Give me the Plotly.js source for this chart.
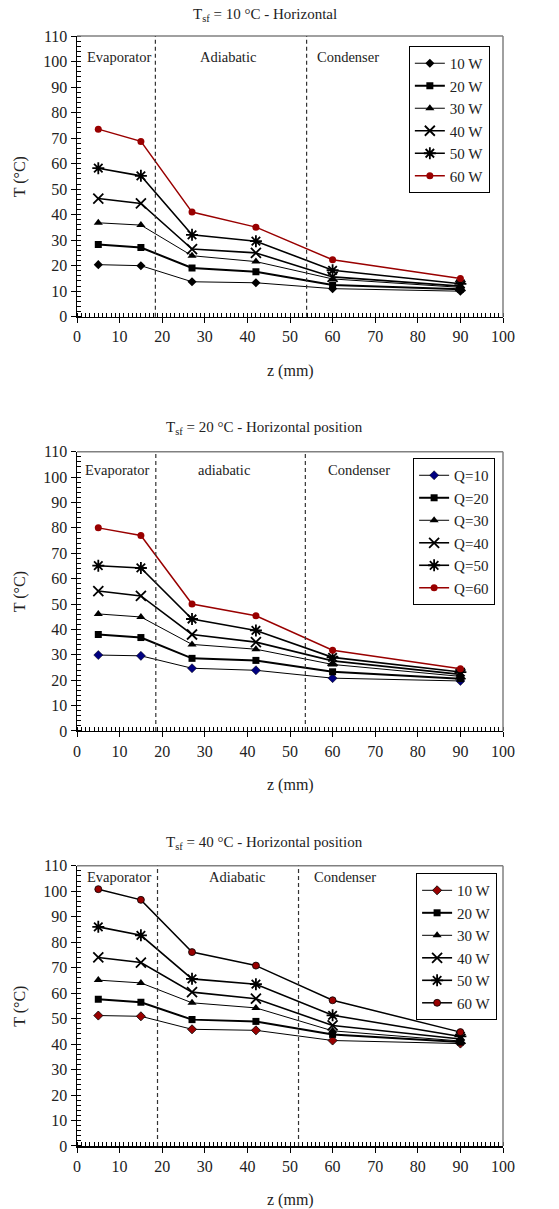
<!DOCTYPE html>
<html>
<head>
<meta charset="utf-8">
<script src="https://cdn.plot.ly/plotly-3.0.1.min.js"></script>
<style>html,body{margin:0;padding:0;background:#fff;}#chart{width:559px;height:1209px;}</style>
</head>
<body>
<div id="chart"></div>
<script>
// ---- data ----
const z = [5, 15, 27, 42, 60, 90];

// Panel 1: T_sf = 10 °C
const p1_names = ["10 W", "20 W", "30 W", "40 W", "50 W", "60 W"];
const p1_q10 = [20.4, 20.0, 13.7, 13.3, 11.0, 10.0];
const p1_q20 = [28.3, 27.1, 19.1, 17.6, 12.4, 10.8];
const p1_q30 = [36.8, 35.9, 23.9, 21.6, 14.8, 11.5];
const p1_q40 = [46.3, 44.4, 26.5, 25.0, 15.6, 12.0];
const p1_q50 = [58.2, 55.2, 32.1, 29.6, 18.2, 12.9];
const p1_q60 = [73.5, 68.7, 41.0, 35.1, 22.3, 15.0];

// Panel 2: T_sf = 20 °C
const p2_names = ["Q=10", "Q=20", "Q=30", "Q=40", "Q=50", "Q=60"];
const p2_q10 = [29.9, 29.6, 24.7, 23.9, 20.8, 19.7];
const p2_q20 = [38.0, 36.8, 28.6, 27.8, 23.3, 20.6];
const p2_q30 = [46.1, 44.9, 34.1, 32.2, 26.2, 21.5];
const p2_q40 = [55.1, 53.2, 38.0, 35.0, 27.6, 22.3];
const p2_q50 = [65.1, 64.2, 44.1, 39.6, 29.0, 23.2];
const p2_q60 = [80.0, 77.0, 50.0, 45.4, 31.8, 24.5];

// Panel 3: T_sf = 40 °C
const p3_names = ["10 W", "20 W", "30 W", "40 W", "50 W", "60 W"];
const p3_q10 = [51.2, 50.9, 45.8, 45.4, 41.4, 40.2];
const p3_q20 = [57.6, 56.4, 49.6, 48.9, 43.8, 40.8];
const p3_q30 = [65.1, 64.0, 56.2, 54.2, 45.2, 41.2];
const p3_q40 = [74.0, 72.0, 60.4, 57.8, 47.3, 42.0];
const p3_q50 = [86.0, 82.7, 65.6, 63.5, 51.3, 43.0];
const p3_q60 = [100.8, 96.6, 76.1, 70.8, 57.2, 44.7];

// Section boundaries (z, mm) per panel
const bounds1 = [18.4, 53.9];
const bounds2 = [18.5, 53.6];
const bounds3 = [18.9, 52.0];

const titles = ["T<sub>sf</sub> = 10 °C - Horizontal",
                "T<sub>sf</sub> = 20 °C - Horizontal position",
                "T<sub>sf</sub> = 40 °C - Horizontal position"];
const regionLabels1 = ["Evaporator", "Adiabatic", "Condenser"];
const regionLabels2 = ["Evaporator", "adiabatic", "Condenser"];
const regionLabels3 = ["Evaporator", "Adiabatic", "Condenser"];

// ---- styling ----
const FONT = "Liberation Serif";
const RED = "#990000";
const symbols = ["diamond", "square", "triangle-up", "x-thin-open", "asterisk-open", "circle"];
const msizes  = [7, 7, 8, 10, 10, 7];
const lwidths = [1, 2, 1, 1.6, 1.6, 1.5];

function buildPanel(series, names, k, styleFn) {
  const traces = [];
  series.forEach((ys, i) => {
    const st = styleFn(i);
    const open = symbols[i].endsWith("-open");
    traces.push({
      type: "scatter", mode: "lines+markers",
      x: z, y: ys, name: names[i],
      xaxis: k === 1 ? "x" : "x" + k,
      yaxis: k === 1 ? "y" : "y" + k,
      legend: k === 1 ? "legend" : "legend" + k,
      legendgroup: "g" + k + "_" + i,
      line: {color: st.line, width: lwidths[i]},
      marker: {symbol: symbols[i], size: msizes[i], color: st.marker,
               line: {color: open ? st.marker : st.outline, width: open ? 1.8 : st.outlineW}},
      showlegend: true
    });
  });
  return traces;
}

const data = []
  .concat(buildPanel([p1_q10, p1_q20, p1_q30, p1_q40, p1_q50, p1_q60], p1_names, 1, i =>
    i === 5 ? {line: RED, marker: RED, outline: RED, outlineW: 0} : {line: "#000", marker: "#000", outline: "#000", outlineW: 0}))
  .concat(buildPanel([p2_q10, p2_q20, p2_q30, p2_q40, p2_q50, p2_q60], p2_names, 2, i =>
    i === 5 ? {line: RED, marker: RED, outline: RED, outlineW: 0} :
    i === 0 ? {line: "#000", marker: "#000080", outline: "#000", outlineW: 0.5} :
              {line: "#000", marker: "#000", outline: "#000", outlineW: 0}))
  .concat(buildPanel([p3_q10, p3_q20, p3_q30, p3_q40, p3_q50, p3_q60], p3_names, 3, i =>
    (i === 0 || i === 5) ? {line: "#000", marker: RED, outline: "#000", outlineW: 0.8} :
              {line: "#000", marker: "#000", outline: "#000", outlineW: 0}));

const domains = [[0.7471, 1.0], [0.3739, 0.6255], [0.0, 0.2525]];

function xaxisDef(k) {
  return {
    domain: [0, 1], anchor: k === 1 ? "y" : "y" + k,
    range: [0, 100], tickvals: [0,10,20,30,40,50,60,70,80,90,100],
    ticks: "outside", ticklen: 5, tickwidth: 1, tickcolor: "#000",
    showline: true, linecolor: "#000", linewidth: 1.5, mirror: false,
    showgrid: false, zeroline: false,
    minor: {dtick: 1, ticks: "inside", ticklen: 4, tickcolor: "#000", tickwidth: 1, showgrid: false},
    tickfont: {family: FONT, size: 16, color: "#222"}
  };
}
function yaxisDef(k) {
  return {
    domain: domains[k-1], anchor: k === 1 ? "x" : "x" + k,
    range: [0, 110], tickvals: [0,10,20,30,40,50,60,70,80,90,100,110],
    ticks: "outside", ticklen: 5, tickwidth: 1, tickcolor: "#000",
    showline: true, linecolor: "#000", linewidth: 1.5, mirror: false,
    showgrid: false, zeroline: false,
    minor: {dtick: 2, ticks: "inside", ticklen: 4, tickcolor: "#000", tickwidth: 1, showgrid: false},
    tickfont: {family: FONT, size: 16, color: "#222"}
  };
}

const shapes = [];
const annotations = [];
const boundsAll = [bounds1, bounds2, bounds3];
const labelsAll = [regionLabels1, regionLabels2, regionLabels3];
const labelX = [[9.9, 35.4, 63.5], [9.5, 34.5, 66.1], [10.0, 37.5, 62.9]];
const labelY = [101.8, 102.8, 105.6];
const titleY = [1.0189, 0.6468, 0.2730];
const legendPos = [[0.779, 0.991], [0.789, 0.6198], [0.796, 0.2459]];

for (let k = 1; k <= 3; k++) {
  const xr = k === 1 ? "x" : "x" + k;
  const yr = k === 1 ? "y" : "y" + k;
  // frame top/right (grey)
  shapes.push({type: "line", xref: xr + " domain", yref: yr + " domain", x0: 0, x1: 1, y0: 1, y1: 1,
               line: {color: "#808080", width: 1.5}});
  shapes.push({type: "line", xref: xr + " domain", yref: yr + " domain", x0: 1, x1: 1, y0: 0, y1: 1,
               line: {color: "#808080", width: 1.5}});
  // section boundaries
  boundsAll[k-1].forEach(b => shapes.push({type: "line", xref: xr, yref: yr + " domain", x0: b, x1: b, y0: 0, y1: 1,
               line: {color: "#333", width: 1.2, dash: "4px,3px"}}));
  // region labels
  labelsAll[k-1].forEach((t, j) => annotations.push({xref: xr, yref: yr, x: labelX[k-1][j], y: labelY[k-1],
               text: t, showarrow: false, font: {family: FONT, size: 14.5, color: "#222"}}));
  // titles
  annotations.push({xref: "paper", yref: "paper", x: 0.441, y: titleY[k-1], text: titles[k-1],
               showarrow: false, xanchor: "center", yanchor: "middle", font: {family: FONT, size: 15, color: "#222"}});
  // axis titles
  annotations.push({xref: "paper", yref: yr + " domain", x: -0.134, y: 0.5, text: "T (°C)", textangle: -90,
               showarrow: false, xanchor: "center", yanchor: "middle", font: {family: FONT, size: 16, color: "#222"}});
  annotations.push({xref: xr + " domain", yref: yr + " domain", x: 0.5, y: -0.193, text: "z (mm)",
               showarrow: false, xanchor: "center", yanchor: "middle", font: {family: FONT, size: 16, color: "#222"}});
}

const layout = {
  width: 559, height: 1209,
  margin: {l: 77, r: 56, t: 36, b: 63},
  paper_bgcolor: "#fff", plot_bgcolor: "#fff",
  font: {family: FONT, color: "#222"},
  shapes: shapes, annotations: annotations
};
for (let k = 1; k <= 3; k++) {
  layout[k === 1 ? "xaxis" : "xaxis" + k] = xaxisDef(k);
  layout[k === 1 ? "yaxis" : "yaxis" + k] = yaxisDef(k);
  layout[k === 1 ? "legend" : "legend" + k] = {
    x: legendPos[k-1][0], y: legendPos[k-1][1], xanchor: "left", yanchor: "top",
    xref: "paper", yref: "paper",
    bgcolor: "#fff", bordercolor: "#000", borderwidth: 1,
    font: {family: FONT, size: 15, color: "#222"},
    traceorder: "grouped", tracegroupgap: 0, itemwidth: 30
  };
}

Plotly.newPlot("chart", data, layout, {displayModeBar: false, staticPlot: true});
</script>
</body>
</html>
